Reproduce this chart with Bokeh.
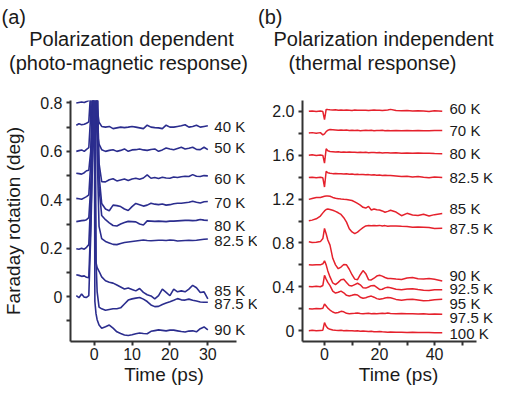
from bokeh.plotting import figure
from bokeh.models import FixedTicker, Range1d
from bokeh.layouts import row, column
from bokeh.embed import file_html
from bokeh.resources import INLINE
from bokeh.core.properties import value

FONT = "Liberation Sans"
NAVY = "#2b2d8e"
RED = "#e5212c"
AXIS = "#333333"
TXT = "#1a1a1a"

# ---------------- Panel (a): polarization dependent ----------------
t_a = [-4.7, -4.0, -3.3, -2.6, -2.0, -1.4, -0.9, -0.5, -0.2, 0.0, 0.2, 0.5, 0.8, 1.3,
       2, 3, 4, 5, 6, 7, 8, 9, 10, 11, 12, 13, 14, 15, 16, 17, 18, 19, 20,
       21, 22, 23, 24, 25, 26, 27, 28, 29, 30]

a_40K = [0.800, 0.802, 0.804, 0.802, 0.806, 0.810,
         0.95, 1.3, 1.3, 1.3, 1.3, 0.90, 0.78, 0.72,
         0.703, 0.700, 0.703, 0.694, 0.697, 0.700, 0.698, 0.700, 0.703, 0.700,
         0.697, 0.694, 0.708, 0.700, 0.698, 0.697, 0.694, 0.708, 0.700, 0.700,
         0.703, 0.706, 0.710, 0.700, 0.703, 0.708, 0.700, 0.703, 0.706]
a_50K = [0.708, 0.714, 0.710, 0.712, 0.716, 0.722,
         0.85, 1.3, 1.3, 1.3, 1.0, 0.75, 0.68, 0.63,
         0.607, 0.600, 0.604, 0.607, 0.600, 0.604, 0.610, 0.600, 0.606, 0.607,
         0.610, 0.606, 0.604, 0.608, 0.610, 0.600, 0.606, 0.614, 0.610, 0.607,
         0.612, 0.617, 0.610, 0.613, 0.617, 0.608, 0.607, 0.617, 0.607]
a_60K = [0.600, 0.603, 0.606, 0.600, 0.608, 0.615,
         0.75, 1.2, 1.3, 1.3, 1.3, 1.1, 0.85, 0.55,
         0.475, 0.474, 0.483, 0.487, 0.478, 0.482, 0.486, 0.480, 0.486, 0.489,
         0.485, 0.490, 0.503, 0.489, 0.492, 0.488, 0.493, 0.490, 0.489, 0.494,
         0.492, 0.495, 0.497, 0.496, 0.504, 0.497, 0.496, 0.500, 0.499]
a_70K = [0.510, 0.508, 0.506, 0.512, 0.520, 0.522,
         0.60, 0.85, 1.3, 1.3, 1.3, 0.95, 0.70, 0.50,
         0.385, 0.362, 0.355, 0.378, 0.376, 0.372, 0.362, 0.356, 0.372, 0.385,
         0.380, 0.374, 0.378, 0.386, 0.382, 0.380, 0.383, 0.378, 0.380, 0.384,
         0.386, 0.386, 0.388, 0.390, 0.394, 0.390, 0.387, 0.392, 0.393]
a_80K = [0.406, 0.404, 0.402, 0.408, 0.413, 0.420,
         0.55, 0.70, 1.0, 1.3, 1.3, 1.3, 1.0, 0.45,
         0.335, 0.318, 0.305, 0.294, 0.292, 0.300, 0.306, 0.311, 0.310, 0.309,
         0.300, 0.296, 0.313, 0.312, 0.311, 0.312, 0.311, 0.310, 0.312, 0.312,
         0.313, 0.314, 0.315, 0.315, 0.314, 0.315, 0.319, 0.316, 0.315]
a_82K = [0.310, 0.312, 0.314, 0.315, 0.318, 0.326,
         0.45, 0.60, 0.75, 1.3, 1.3, 1.2, 0.60, 0.29,
         0.240, 0.228, 0.222, 0.216, 0.215, 0.220, 0.224, 0.226, 0.228, 0.230,
         0.232, 0.234, 0.232, 0.231, 0.232, 0.233, 0.233, 0.232, 0.234, 0.233,
         0.230, 0.231, 0.232, 0.233, 0.232, 0.233, 0.235, 0.237, 0.238]
a_85K = [0.198, 0.196, 0.200, 0.196, 0.204, 0.215,
         0.40, 0.60, 0.95, 1.3, 0.50, 0.14, 0.12, 0.105,
         0.082, 0.066, 0.060, 0.056, 0.048, 0.040, 0.032, 0.036, 0.030, 0.024,
         0.034, 0.018, 0.008, 0.003, -0.009, 0.004, 0.031, 0.018, 0.004, 0.031,
         0.020, 0.024, 0.020, 0.031, 0.047, 0.037, 0.017, 0.020, -0.009]
a_87K = [0.091, 0.088, 0.084, 0.086, 0.080, 0.078,
         0.30, 0.55, 0.80, 1.3, 1.3, 0.15, 0.02, -0.043,
         -0.050, -0.056, -0.053, -0.050, -0.050, -0.046, -0.030, -0.014, -0.009, -0.006,
         -0.003, -0.010, -0.020, -0.034, -0.041, -0.040, -0.032, -0.026, -0.021, -0.015,
         -0.008, -0.013, -0.014, -0.010, -0.015, -0.018, -0.022, -0.023, -0.023]
a_90K = [0.004, -0.004, 0.011, -0.002, -0.003, 0.004,
         0.25, 0.50, 0.70, 1.3, -0.02, -0.07, -0.095, -0.117,
         -0.130, -0.124, -0.117, -0.130, -0.145, -0.152, -0.158, -0.160, -0.157, -0.153,
         -0.150, -0.152, -0.153, -0.143, -0.140, -0.137, -0.139, -0.141, -0.138, -0.138,
         -0.141, -0.144, -0.146, -0.142, -0.141, -0.145, -0.132, -0.125, -0.137]

a_series = [a_40K, a_50K, a_60K, a_70K, a_80K, a_82K, a_85K, a_87K, a_90K]
a_labels = ["40 K", "50 K", "60 K", "70 K", "80 K", "82.5 K", "85 K", "87.5 K", "90 K"]
a_label_y = [0.701, 0.616, 0.489, 0.389, 0.295, 0.232, 0.027, -0.027, -0.134]
a_yticks = [0, 0.2, 0.4, 0.6, 0.8]
a_yminor = [-0.1, 0.1, 0.3, 0.5, 0.7]
a_xticks = [0, 10, 20, 30]

# ---------------- Panel (b): polarization independent ----------------
t_b = [-5.7, -4.5, -3.0, -1.5, -0.6, 0.0, 0.6, 1.2, 2, 3, 4, 5, 6, 7, 8, 9, 10,
       11, 12, 13, 14, 15, 16, 17, 18, 19, 20, 21, 22, 23, 24, 26, 28, 30, 32,
       34, 36, 38, 40, 42.8]

b_60K = [2.000, 2.004, 1.998, 2.003, 1.998, 1.925, 2.018, 2.016, 2.014, 2.012,
         2.014, 2.010, 2.012, 2.010, 2.013, 2.011, 2.008, 2.012, 2.010, 2.009,
         2.011, 2.010, 2.008, 2.010, 2.012, 2.009, 2.010, 2.008, 2.010, 2.012,
         2.018, 2.008, 2.006, 2.008, 2.004, 2.006, 2.003, 1.998, 2.006, 2.000]
b_70K = [1.802, 1.806, 1.800, 1.806, 1.786, 1.795, 1.815, 1.828, 1.834, 1.832,
         1.830, 1.828, 1.830, 1.827, 1.829, 1.826, 1.828, 1.825, 1.827, 1.824,
         1.826, 1.828, 1.825, 1.827, 1.824, 1.826, 1.825, 1.827, 1.823, 1.825,
         1.824, 1.826, 1.822, 1.825, 1.823, 1.826, 1.824, 1.822, 1.826, 1.826]
b_80K = [1.600, 1.604, 1.598, 1.602, 1.598, 1.527, 1.658, 1.640, 1.634, 1.632,
         1.630, 1.631, 1.628, 1.630, 1.627, 1.629, 1.626, 1.628, 1.625, 1.627,
         1.624, 1.626, 1.623, 1.625, 1.624, 1.622, 1.624, 1.621, 1.623, 1.622,
         1.620, 1.622, 1.619, 1.621, 1.618, 1.620, 1.617, 1.619, 1.616, 1.614]
b_82K = [1.396, 1.400, 1.394, 1.398, 1.394, 1.310, 1.454, 1.440, 1.436, 1.432,
         1.434, 1.430, 1.431, 1.428, 1.430, 1.426, 1.428, 1.425, 1.426, 1.423,
         1.425, 1.422, 1.423, 1.420, 1.421, 1.418, 1.419, 1.416, 1.418, 1.414,
         1.415, 1.410, 1.405, 1.408, 1.402, 1.405, 1.398, 1.395, 1.402, 1.396]
b_85K = [1.197, 1.205, 1.215, 1.215, 1.222, 1.226, 1.228, 1.228, 1.226, 1.215,
         1.207, 1.204, 1.200, 1.198, 1.197, 1.192, 1.187, 1.175, 1.160, 1.145,
         1.125, 1.118, 1.133, 1.100, 1.110, 1.103, 1.100, 1.092, 1.080, 1.088,
         1.098, 1.082, 1.048, 1.070, 1.055, 1.050, 1.062, 1.046, 1.058, 1.068]
b_87K = [1.002, 1.008, 1.020, 1.045, 1.074, 1.092, 1.105, 1.109, 1.105, 1.098,
         1.088, 1.075, 1.060, 1.030, 0.990, 0.930, 0.900, 0.884, 0.898, 0.920,
         0.940, 0.955, 0.958, 0.956, 0.960, 0.957, 0.960, 0.955, 0.958, 0.952,
         0.955, 0.955, 0.952, 0.950, 0.943, 0.945, 0.943, 0.940, 0.932, 0.934]
b_90K = [0.810, 0.803, 0.806, 0.812, 0.840, 0.932, 0.884, 0.827, 0.780, 0.660,
         0.600, 0.565, 0.580, 0.603, 0.600, 0.560, 0.510, 0.470, 0.465, 0.510,
         0.548, 0.520, 0.465, 0.462, 0.478, 0.498, 0.505, 0.497, 0.485, 0.476,
         0.475, 0.470, 0.466, 0.480, 0.485, 0.474, 0.470, 0.476, 0.468, 0.453]
b_92K = [0.600, 0.598, 0.602, 0.600, 0.610, 0.637, 0.600, 0.545, 0.490, 0.435,
         0.420, 0.440, 0.465, 0.468, 0.440, 0.412, 0.408, 0.420, 0.432, 0.418,
         0.392, 0.388, 0.398, 0.410, 0.412, 0.395, 0.376, 0.378, 0.390, 0.396,
         0.392, 0.378, 0.374, 0.380, 0.383, 0.375, 0.368, 0.366, 0.372, 0.374]
b_95K = [0.403, 0.400, 0.404, 0.400, 0.412, 0.505, 0.470, 0.440, 0.410, 0.360,
         0.343, 0.350, 0.360, 0.345, 0.322, 0.316, 0.322, 0.330, 0.325, 0.305,
         0.295, 0.300, 0.310, 0.315, 0.305, 0.292, 0.286, 0.290, 0.298, 0.302,
         0.300, 0.285, 0.278, 0.283, 0.286, 0.280, 0.272, 0.276, 0.282, 0.286]
b_97K = [0.200, 0.198, 0.201, 0.199, 0.205, 0.243, 0.225, 0.205, 0.188, 0.170,
         0.160, 0.165, 0.176, 0.172, 0.158, 0.155, 0.157, 0.158, 0.160, 0.156,
         0.154, 0.157, 0.158, 0.155, 0.157, 0.154, 0.156, 0.158, 0.157, 0.160,
         0.156, 0.155, 0.157, 0.154, 0.155, 0.152, 0.154, 0.150, 0.152, 0.149]
b_100K = [0.000, 0.003, -0.002, 0.002, 0.004, 0.073, 0.040, 0.022, 0.012, 0.005,
          0.003, 0.002, 0.004, 0.000, 0.002, -0.001, 0.000, -0.003, -0.002, -0.005,
          -0.004, -0.006, -0.008, -0.006, -0.009, -0.010, -0.008, -0.011, -0.012, -0.015,
          -0.013, -0.015, -0.014, -0.017, -0.015, -0.016, -0.018, -0.016, -0.019, -0.020]

b_series = [b_60K, b_70K, b_80K, b_82K, b_85K, b_87K, b_90K, b_92K, b_95K, b_97K, b_100K]
b_labels = ["60 K", "70 K", "80 K", "82.5 K", "85 K", "87.5 K", "90 K",
            "92.5 K", "95 K", "97.5 K", "100 K"]
b_label_y = [2.029, 1.825, 1.62, 1.401, 1.11, 0.928, 0.505, 0.38, 0.249, 0.117, -0.026]
b_yticks = [0, 0.4, 0.8, 1.2, 1.6, 2.0]
b_yminor = [0.2, 0.6, 1.0, 1.4, 1.8]
b_xticks = [0, 20, 40]
b_xminor = [10, 30, 50]

# ---------------- headings ----------------
a_tag, a_line1, a_line2 = "(a)", "Polarization dependent", "(photo-magnetic response)"
b_tag, b_line1, b_line2 = "(b)", "Polarization independent", "(thermal response)"

HH = 84      # heading strip height
HM = 303     # plot height
WA, WB = 257, 237


def heading(width, tag, line1, line2, tx, c1, c2):
    h = figure(width=width, height=HH, output_backend="svg", toolbar_location=None,
               x_range=Range1d(0, width), y_range=Range1d(HH, 0), min_border=0,
               x_axis_location=None, y_axis_location=None)
    h.outline_line_color = None
    h.grid.visible = False
    h.background_fill_color = "white"
    h.border_fill_color = "white"
    kw = dict(text_font=value(FONT), text_font_size="20px", text_color=TXT,
              text_baseline="alphabetic")
    h.text(x=[tx], y=[16], text=[tag], text_align="left", **kw)
    h.text(x=[c1], y=[38], text=[line1], text_align="center", **kw)
    h.text(x=[c2], y=[62], text=[line2], text_align="center", **kw)
    return h


def style_axes(p):
    p.outline_line_color = None
    p.grid.visible = False
    p.background_fill_color = "white"
    p.border_fill_color = "white"
    for ax in (p.xaxis[0], p.yaxis[0]):
        ax.axis_line_color = AXIS
        ax.axis_line_width = 2
        ax.major_tick_line_color = AXIS
        ax.major_tick_line_width = 2
        ax.minor_tick_line_color = AXIS
        ax.minor_tick_line_width = 2
        ax.major_tick_in = 0
        ax.major_tick_out = 4
        ax.minor_tick_in = 0
        ax.minor_tick_out = 4
        ax.major_label_text_font = FONT
        ax.major_label_text_font_size = "16px"
        ax.major_label_text_color = TXT
        ax.axis_label_text_font = FONT
        ax.axis_label_text_font_size = "19px"
        ax.axis_label_text_font_style = "normal"
        ax.axis_label_text_color = TXT
    p.xaxis[0].major_label_standoff = 2
    p.xaxis[0].axis_label_standoff = 1
    p.yaxis[0].major_label_standoff = 4


# ---- figure a ----
pa = figure(width=WA, height=HM, output_backend="svg", toolbar_location=None,
            x_range=Range1d(-6.23, 43.1), y_range=Range1d(-0.185, 0.81),
            min_border_left=67, min_border_right=0, min_border_top=16,
            min_border_bottom=43)
for s in a_series:
    pa.line(t_a, s, line_color=NAVY, line_width=1.6)
pa.text(x=[31.7] * len(a_labels), y=a_label_y, text=a_labels,
        text_font=value(FONT), text_font_size="15px", text_color=TXT,
        text_baseline="middle", text_align="left")
style_axes(pa)
pa.xaxis[0].ticker = FixedTicker(ticks=a_xticks)
pa.xaxis[0].bounds = (-6.23, 37.6)
pa.xaxis[0].axis_label = "Time (ps)"
pa.yaxis[0].ticker = FixedTicker(ticks=a_yticks, minor_ticks=a_yminor)
pa.yaxis[0].major_label_overrides = {0: "0"}
pa.yaxis[0].axis_label = "Faraday rotation (deg)"
pa.yaxis[0].axis_label_standoff = 13

# ---- figure b ----
pb = figure(width=WB, height=HM, output_backend="svg", toolbar_location=None,
            x_range=Range1d(-8.0, 61.8), y_range=Range1d(-0.099, 2.099),
            min_border_left=45, min_border_right=0, min_border_top=9,
            min_border_bottom=46)
for s in b_series:
    pb.line(t_b, s, line_color=RED, line_width=1.5)
pb.text(x=[45.45] * len(b_labels), y=b_label_y, text=b_labels,
        text_font=value(FONT), text_font_size="15px", text_color=TXT,
        text_baseline="middle", text_align="left")
style_axes(pb)
pb.xaxis[0].ticker = FixedTicker(ticks=b_xticks, minor_ticks=b_xminor)
pb.xaxis[0].bounds = (-8.0, 55.3)
pb.xaxis[0].axis_label = "Time (ps)"
pb.yaxis[0].ticker = FixedTicker(ticks=b_yticks, minor_ticks=b_yminor)
pb.yaxis[0].major_label_overrides = {0: "0", 2: "2.0"}

ha = heading(WA, a_tag, a_line1, a_line2, 1, 131, 128)
hb = heading(WB, b_tag, b_line1, b_line2, 0.5, 126, 115)

layout = column(row(ha, hb, spacing=0), row(pa, pb, spacing=0), spacing=0)
open("out.html", "w").write(file_html(layout, INLINE))
